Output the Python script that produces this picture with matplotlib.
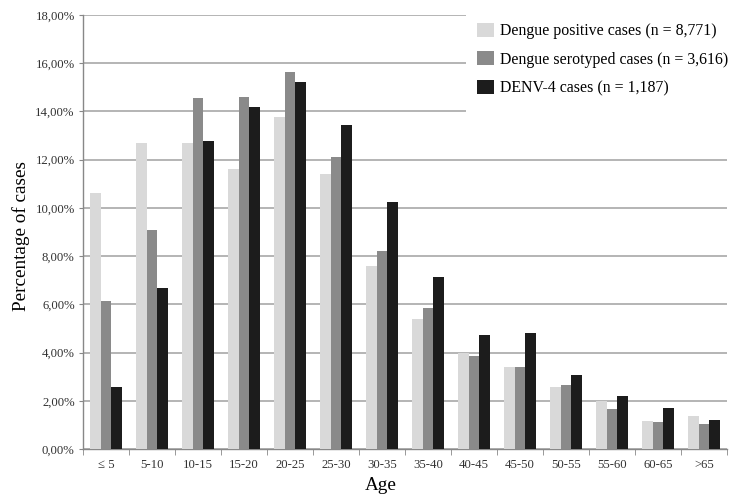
import matplotlib
matplotlib.use("Agg")
import matplotlib.pyplot as plt
import numpy as np
from matplotlib.ticker import FuncFormatter, FixedLocator
from matplotlib.patches import Rectangle

plt.rcParams['font.family'] = ['Liberation Serif', 'DejaVu Serif']

categories = ["\u2264 5", "5-10", "10-15", "15-20", "20-25", "25-30", "30-35", "35-40",
              "40-45", "45-50", "50-55", "55-60", "60-65", ">65"]
positive = [10.63, 12.68, 12.70, 11.60, 13.78, 11.41, 7.59, 5.39, 3.97, 3.41, 2.58, 2.00, 1.16, 1.38]
serotyped = [6.14, 9.08, 14.55, 14.61, 15.64, 12.12, 8.20, 5.86, 3.86, 3.41, 2.67, 1.66, 1.10, 1.04]
denv4 = [2.56, 6.69, 12.79, 14.20, 15.21, 13.45, 10.26, 7.12, 4.74, 4.82, 3.06, 2.21, 1.69, 1.19]
series_labels = ["Dengue positive cases (n = 8,771)",
                 "Dengue serotyped cases (n = 3,616)",
                 "DENV-4 cases (n = 1,187)"]
colors = ["#d9d9d9", "#8a8a8a", "#1c1c1c"]

fig = plt.figure(figsize=(7.42, 5.0), dpi=100)
ax = fig.add_axes([83/742, 1-449/500, (727-83)/742, (449-15)/500])

x = np.arange(len(categories))
w = 0.225
for i, (vals, lab, c) in enumerate(zip([positive, serotyped, denv4], series_labels, colors)):
    ax.bar(x + (i - 1) * w, vals, width=w, color=c, label=lab, zorder=3)

ax.set_xlim(-0.5, len(categories) - 0.5)
ax.set_ylim(0, 18)
ax.set_yticks(np.arange(0, 18.1, 2))
ax.yaxis.set_major_formatter(FuncFormatter(lambda v, p: f"{v:.2f}%".replace('.', ',')))
ax.grid(axis='y', color='#a8a8a8', linewidth=1.2, zorder=0)
ax.set_axisbelow(True)

ax.set_xticks(x)
ax.set_xticklabels(categories)
ax.xaxis.set_minor_locator(FixedLocator(np.arange(-0.5, len(categories), 1)))
ax.tick_params(axis='x', which='major', length=0, pad=7, labelsize=9.2, labelcolor='#333333')
ax.tick_params(axis='x', which='minor', length=4, color='#888888', direction='out')
ax.tick_params(axis='y', length=3, color='#888888', labelsize=9.2, labelcolor='#333333', pad=3)

for s in ['top', 'right']:
    ax.spines[s].set_visible(False)
for s in ['left', 'bottom']:
    ax.spines[s].set_color('#888888')
    ax.spines[s].set_linewidth(1.0)

ax.set_ylabel("Percentage of cases", fontsize=13.8)
ax.yaxis.set_label_coords((30 - 83) / 644, 0.49)
ax.set_xlabel("Age", fontsize=13.8)
ax.xaxis.set_label_coords((381 - 83) / 644, -(477 - 449) / 434)

# white area behind the legend, hiding the gridlines there
fig.add_artist(Rectangle((466/742, 1 - 114/500), (742 - 466)/742, 104/500,
                         transform=fig.transFigure, facecolor='white', edgecolor='none', zorder=2))

leg = fig.legend(loc='upper left', bbox_to_anchor=(469/742, 1 - 15/500), frameon=False,
                 fontsize=11.4, handlelength=1.1, handleheight=1.0, labelspacing=0.75,
                 borderpad=0.0, handletextpad=0.35)
leg.set_zorder(5)

fig.savefig("out.png", dpi=100)
